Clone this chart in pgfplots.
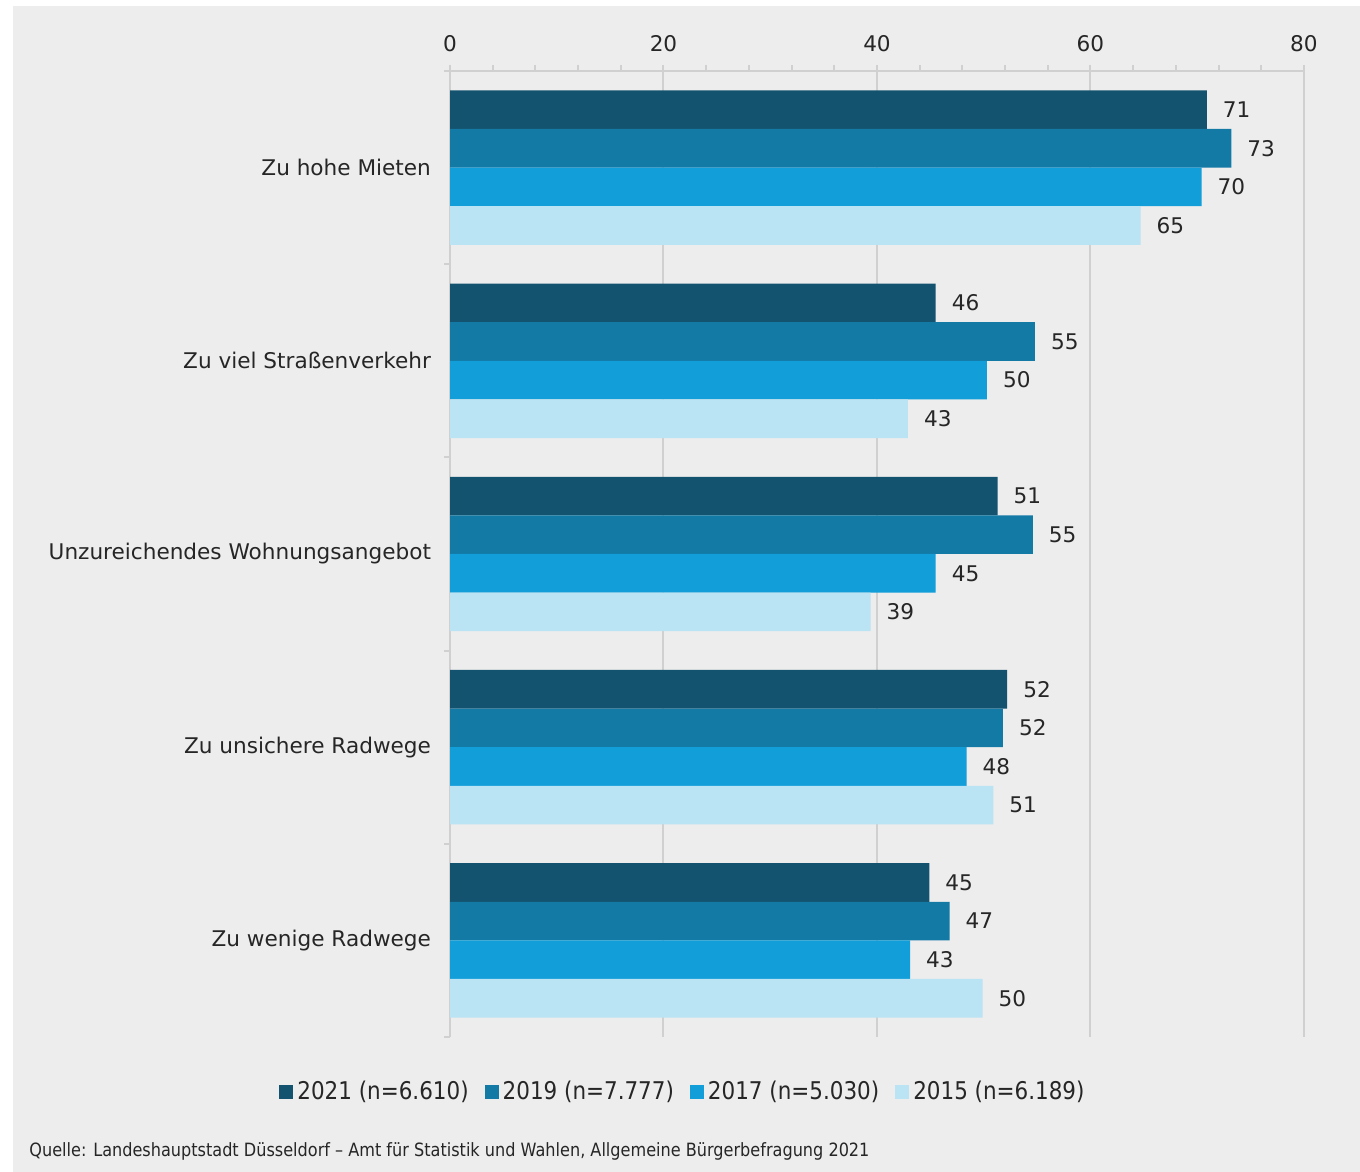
\documentclass[border=0pt]{standalone}
\usepackage{pgfplots}
\pgfplotsset{compat=1.18}
\usepackage{fontspec}
\setmainfont{DejaVu Sans}
\newfontfamily\condfont[FakeStretch=0.88]{DejaVu Sans}
\definecolor{cA}{RGB}{20,83,111}
\definecolor{cB}{RGB}{19,121,165}
\definecolor{cC}{RGB}{17,158,217}
\definecolor{cD}{RGB}{186,227,244}
\definecolor{bgc}{RGB}{237,237,237}
\definecolor{gridc}{RGB}{208,208,208}
\definecolor{txt}{RGB}{38,38,38}
\begin{document}
\begin{tikzpicture}[x=1pt,y=1pt]
\fill[white] (0,0) rectangle (680,-586);
\fill[bgc] (6.5,-3) rectangle (680,-586);
\begin{axis}[
  at={(225pt,-35.5pt)}, anchor=north west,
  width=427pt, height=483pt, scale only axis,
  xmin=0, xmax=80, ymin=-0.5, ymax=4.5,
  axis x line*=top, axis y line*=left,
  axis line style={-, draw=gridc, line width=1pt},
  xtick={0,20,...,80}, minor x tick num=4,
  tick align=outside, major tick length=3pt, minor tick length=3pt,
  tick style={draw=gridc, line width=1pt},
  xmajorgrids, major grid style={draw=gridc, line width=1pt},
  ytick={-0.5,0.5,...,4.5}, yticklabels={},
  extra y ticks={0,1,2,3,4},
  extra y tick labels={Zu wenige Radwege,Zu unsichere Radwege,Unzureichendes Wohnungsangebot,Zu viel Straßenverkehr,Zu hohe Mieten},
  extra y tick style={major tick length=0pt, tick style={draw=none}},
  yticklabel style={font=\fontsize{10.8}{12}\selectfont, text=txt, xshift=-6pt},
  xticklabel style={font=\fontsize{10.8}{12}\selectfont, text=txt, yshift=3pt},
  /pgf/number format/assume math mode=true,
  xbar, bar width=19.3pt,
  nodes near coords, point meta=explicit symbolic,
  every node near coord/.append style={font=\fontsize{10.8}{12}\selectfont, text=txt, anchor=west, xshift=4.5pt},
  legend style={at={(axis description cs:0.274,-0.057)}, anchor=center, draw=none, fill=none,
     font=\condfont\fontsize{12.2}{14}\selectfont, text=txt, legend columns=-1,
     /tikz/every even column/.append style={column sep=6pt}, inner sep=0pt},
  legend image code/.code={\fill[#1,draw=none] (0pt,-3.5pt) rectangle (7pt,3.5pt);},
]
\addplot[fill=cA, draw=none, bar shift=28.95pt] coordinates {(70.9,4) [71] (45.5,3) [46] (51.3,2) [51] (52.2,1) [52] (44.9,0) [45]};
\addplot[fill=cB, draw=none, bar shift=9.65pt] coordinates {(73.2,4) [73] (54.8,3) [55] (54.6,2) [55] (51.8,1) [52] (46.8,0) [47]};
\addplot[fill=cC, draw=none, bar shift=-9.65pt] coordinates {(70.4,4) [70] (50.3,3) [50] (45.5,2) [45] (48.4,1) [48] (43.1,0) [43]};
\addplot[fill=cD, draw=none, bar shift=-28.95pt] coordinates {(64.7,4) [65] (42.9,3) [43] (39.4,2) [39] (50.9,1) [51] (49.9,0) [50]};
\legend{2021 (n=6.610),2019 (n=7.777),2017 (n=5.030),2015 (n=6.189)}
\end{axis}
\node[anchor=west, inner sep=0pt, text=txt, font=\condfont\fontsize{9.15}{11}\selectfont] at (14.5,-575.5) {Quelle: Landeshauptstadt Düsseldorf – Amt für Statistik und Wahlen, Allgemeine Bürgerbefragung 2021};
\end{tikzpicture}
\end{document}
